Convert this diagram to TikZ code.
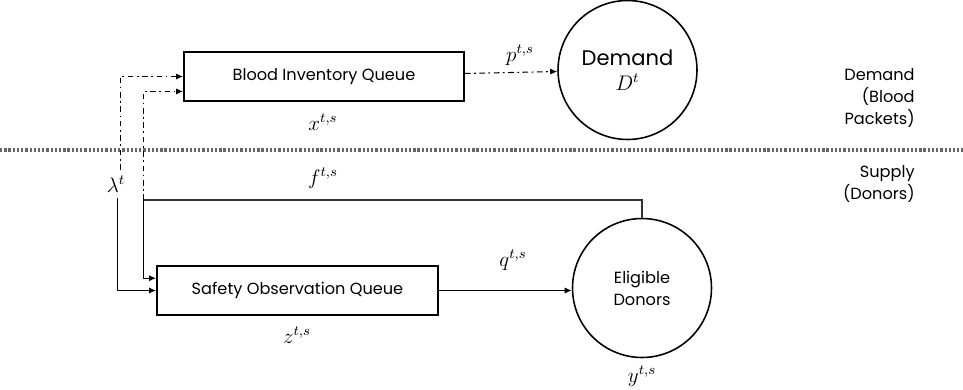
\documentclass[tikz,border=0pt]{standalone}
\usepackage{fontspec}
\setmainfont{Poppins}
\usepackage{amsmath}
\usetikzlibrary{arrows.meta,positioning,shapes.geometric,calc}

\begin{document}
\begin{tikzpicture}[
  x=0.02cm, y=-0.02cm,
  font=\fontsize{9.2}{12.5}\selectfont,
  queue/.style={draw=black, line width=1.1pt, minimum width=5.6cm,
                minimum height=0.98cm, inner sep=0pt},
  pool/.style={circle, draw=black, line width=0.9pt, minimum size=2.78cm,
               inner sep=0pt, align=center},
  arr/.style={-{Latex[length=4pt,width=3.5pt]}, line width=0.6pt},
  dd/.style={arr, dash pattern=on 3.2pt off 2pt on 1pt off 2pt},
  flow/.style={font=\large},
  side/.style={align=right, anchor=east, inner sep=0pt},
]
\useasboundingbox (0,0) rectangle (963,389);

% demand side
\node[queue] (inv) at (324,76.5) {Blood Inventory Queue};
\node[pool] (dem) at (627.5,70) {{\fontsize{12}{14}\selectfont Demand}\\[2pt]{\large$D^{t}$}};
\node[flow] (x) at (323,122) {$x^{t,s}$};
\node[flow] (p) at (520,55) {$p^{t,s}$};

% supply side
\node[queue, minimum width=5.62cm] (safe) at (297.5,290.5) {Safety Observation Queue};
\node[pool] (don) at (642,288) {Eligible\\Donors};
\node[flow] (z) at (297,335) {$z^{t,s}$};
\node[flow] (q) at (513,260) {$q^{t,s}$};
\node[flow] (y) at (642,376) {$y^{t,s}$};
\node[flow] (f) at (323,178) {$f^{t,s}$};
\node[flow] (lam) at (116,184) {$\lambda^{t}$};

\node[side] (dlbl) at (915,98) {Demand\\(Blood\\Packets)};
\node[side] (slbl) at (915,184) {Supply\\(Donors)};

% separator between the two sides
\draw[black!60, line width=1.8pt, dash pattern=on 1.3pt off 1.1pt] (0,150) -- (963,150);

% arrivals
\coordinate (fj) at (143.5,200);
\draw[dd] ([xshift=2.3pt]lam.north) |- (inv.west);
\draw[arr] ([xshift=1pt]lam.south) |- (safe.west);
\draw[dd] (fj) |- ([yshift=-8.5pt]inv.west);
\draw[black!80, line width=0.6pt] (don.north) |- (fj);
\draw[arr] (fj) |- ([yshift=7pt]safe.west);

% flows out of the queues
\draw[dd] (inv) -- (dem);
\draw[arr] (safe.east) -- (don.west |- safe.east);
\end{tikzpicture}
\end{document}
